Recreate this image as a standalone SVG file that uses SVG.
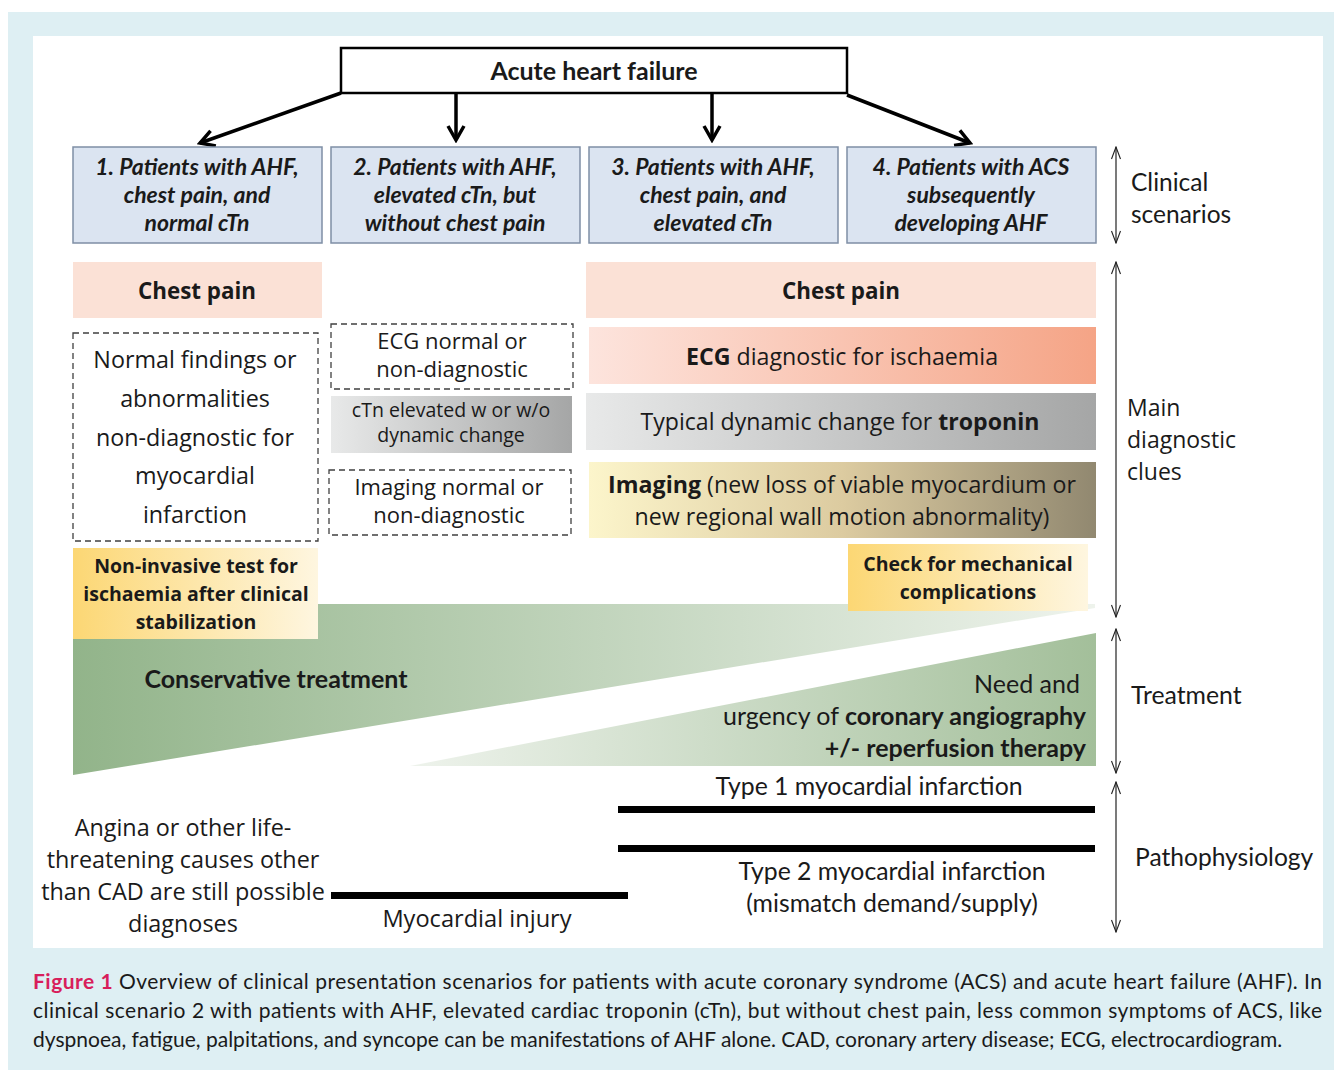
<svg xmlns="http://www.w3.org/2000/svg" width="1334" height="1070" viewBox="0 0 1334 1070">
<defs>
<style>
.nar{font-family:Lato,"Liberation Sans",sans-serif;fill:#1a1a1a}
.op{font-family:"Open Sans","Liberation Sans",sans-serif;fill:#1a1a1a}
.b{font-weight:bold}
.sc{font-family:Lato,"Liberation Sans",sans-serif;font-weight:bold;font-style:italic;font-size:23px;fill:#1a1a1a;text-anchor:middle}
.scbox{fill:#dbe4f1;stroke:#7f8ea5;stroke-width:1.5}
.dash{fill:#fff;stroke:#404040;stroke-width:1.3;stroke-dasharray:6 4}
.conn{stroke:#000;stroke-width:3.5;fill:none;marker-end:url(#ah)}
.rng{stroke:#222;stroke-width:1.2;fill:none;marker-start:url(#th);marker-end:url(#th)}
.bar{fill:#000}
</style>
<marker id="ah" markerUnits="userSpaceOnUse" viewBox="0 0 22 22" refX="19" refY="11" markerWidth="22" markerHeight="22" orient="auto">
<path d="M5,3 L19,11 L5,19" fill="none" stroke="#000" stroke-width="3.5"/>
</marker>
<marker id="th" markerUnits="userSpaceOnUse" viewBox="0 0 14 14" refX="13" refY="7" markerWidth="14" markerHeight="14" orient="auto-start-reverse">
<path d="M1,2.5 L13,7 L1,11.5" fill="none" stroke="#222" stroke-width="1.1"/>
</marker>
<linearGradient id="gGray" x1="0" x2="1" y1="0" y2="0"><stop offset="0" stop-color="#e8e9e9"/><stop offset="1" stop-color="#a5a6a6"/></linearGradient>
<linearGradient id="gEcg" x1="0" x2="1" y1="0" y2="0"><stop offset="0" stop-color="#fde4dd"/><stop offset="1" stop-color="#f5a486"/></linearGradient>
<linearGradient id="gImg" x1="0" x2="1" y1="0" y2="0"><stop offset="0" stop-color="#fcf5cb"/><stop offset="0.5" stop-color="#dccba0"/><stop offset="1" stop-color="#918870"/></linearGradient>
<linearGradient id="gYel" x1="0" x2="1" y1="0" y2="0"><stop offset="0" stop-color="#fcd774"/><stop offset="1" stop-color="#fef6e0"/></linearGradient>
<linearGradient id="gCons" gradientUnits="userSpaceOnUse" x1="73" x2="1095" y1="0" y2="0"><stop offset="0" stop-color="#92b48a"/><stop offset="1" stop-color="#eef3ec"/></linearGradient>
<linearGradient id="gNeed" gradientUnits="userSpaceOnUse" x1="410" x2="1096" y1="0" y2="0"><stop offset="0" stop-color="#eef3ec"/><stop offset="1" stop-color="#a3bf9a"/></linearGradient>
</defs>
<rect x="0" y="0" width="1334" height="1070" fill="#fff"/>
<rect x="8" y="12" width="1326" height="1058" fill="#deeff3"/>
<rect x="33" y="36" width="1290" height="912" fill="#fff"/>

<g id="treatment-wedges">
<polygon points="73,604 1095,604 1095,608 73,775" fill="url(#gCons)"/>
<polygon points="410,766 1096,633 1096,766" fill="url(#gNeed)"/>
<text class="nar b" x="276" y="688" font-size="25" text-anchor="middle">Conservative treatment</text>
<text class="nar" font-size="25" text-anchor="end"><tspan x="1080" y="693">Need and</tspan><tspan x="1086" y="725">urgency of <tspan class="b">coronary angiography</tspan></tspan><tspan class="b" x="1086" y="757">+/- reperfusion therapy</tspan></text>
</g>

<g id="acute-heart-failure">
<rect x="341" y="48" width="506" height="45" fill="#fff" stroke="#000" stroke-width="2.5"/>
<text class="nar b" x="594" y="80" font-size="25" text-anchor="middle">Acute heart failure</text>
</g>

<g id="connectors">
<line class="conn" x1="341" y1="93" x2="200" y2="143"/>
<line class="conn" x1="456" y1="93" x2="456" y2="140"/>
<line class="conn" x1="712" y1="93" x2="712" y2="140"/>
<line class="conn" x1="847" y1="95" x2="970" y2="143"/>
<line class="rng" x1="1116" y1="147" x2="1116" y2="243"/>
<line class="rng" x1="1116" y1="262" x2="1116" y2="617"/>
<line class="rng" x1="1116" y1="629" x2="1116" y2="773"/>
<line class="rng" x1="1116" y1="782" x2="1116" y2="932"/>
</g>

<g id="scenario-1"><rect class="scbox" x="73" y="147" width="249" height="96"/><text class="sc"><tspan x="197" y="175">1. Patients with AHF,</tspan><tspan x="197" y="203">chest pain, and</tspan><tspan x="197" y="231">normal cTn</tspan></text></g>
<g id="scenario-2"><rect class="scbox" x="331" y="147" width="249" height="96"/><text class="sc"><tspan x="455" y="175">2. Patients with AHF,</tspan><tspan x="455" y="203">elevated cTn, but</tspan><tspan x="455" y="231">without chest pain</tspan></text></g>
<g id="scenario-3"><rect class="scbox" x="589" y="147" width="249" height="96"/><text class="sc"><tspan x="713" y="175">3. Patients with AHF,</tspan><tspan x="713" y="203">chest pain, and</tspan><tspan x="713" y="231">elevated cTn</tspan></text></g>
<g id="scenario-4"><rect class="scbox" x="847" y="147" width="249" height="96"/><text class="sc"><tspan x="971" y="175">4. Patients with ACS</tspan><tspan x="971" y="203">subsequently</tspan><tspan x="971" y="231">developing AHF</tspan></text></g>

<g id="labels">
<text class="nar" font-size="24.5"><tspan x="1131" y="191">Clinical</tspan><tspan x="1131" y="223">scenarios</tspan></text>
<text class="op" font-size="23"><tspan x="1127" y="416">Main</tspan><tspan x="1127" y="448">diagnostic</tspan><tspan x="1127" y="480">clues</tspan></text>
<text class="nar" x="1131" y="704" font-size="24.8">Treatment</text>
<text class="nar" x="1135" y="866" font-size="24.6">Pathophysiology</text>
</g>

<g id="chest-pain-1"><rect x="73" y="262" width="249" height="56" fill="#fbe1d6"/><text class="op b" x="197" y="299" font-size="22.4" text-anchor="middle">Chest pain</text></g>
<g id="chest-pain-3"><rect x="586" y="262" width="510" height="56" fill="#fbe1d6"/><text class="op b" x="841" y="299" font-size="22.4" text-anchor="middle">Chest pain</text></g>

<g id="normal-findings"><rect class="dash" x="73" y="333" width="245" height="208"/>
<text class="op" font-size="23.3" text-anchor="middle"><tspan x="195" y="368">Normal findings or</tspan><tspan x="195" y="407">abnormalities</tspan><tspan x="195" y="446">non-diagnostic for</tspan><tspan x="195" y="484">myocardial</tspan><tspan x="195" y="523">infarction</tspan></text></g>

<g id="ecg-normal"><rect class="dash" x="331" y="324" width="242" height="65"/>
<text class="op" font-size="22" text-anchor="middle"><tspan x="452" y="349">ECG normal or</tspan><tspan x="452" y="377">non-diagnostic</tspan></text></g>

<g id="ctn-elevated"><rect x="331" y="396" width="241" height="57" fill="url(#gGray)"/>
<text class="op" font-size="19.5" text-anchor="middle"><tspan x="451" y="417">cTn elevated w or w/o</tspan><tspan x="451" y="442">dynamic change</tspan></text></g>

<g id="imaging-normal"><rect class="dash" x="329" y="470" width="242" height="65"/>
<text class="op" font-size="22" text-anchor="middle"><tspan x="449" y="495">Imaging normal or</tspan><tspan x="449" y="523">non-diagnostic</tspan></text></g>

<g id="ecg-diagnostic"><rect x="589" y="327" width="507" height="57" fill="url(#gEcg)"/>
<text class="op" x="842" y="365" font-size="23.2" text-anchor="middle"><tspan class="b">ECG</tspan> diagnostic for ischaemia</text></g>

<g id="troponin"><rect x="586" y="393" width="510" height="57" fill="url(#gGray)"/>
<text class="op" x="840" y="430" font-size="23.1" text-anchor="middle">Typical dynamic change for <tspan class="b">troponin</tspan></text></g>

<g id="imaging"><rect x="589" y="462" width="507" height="76" fill="url(#gImg)"/>
<text class="op" font-size="23.2" text-anchor="middle"><tspan x="842" y="493"><tspan class="b">Imaging</tspan> (new loss of viable myocardium or</tspan><tspan x="842" y="525">new regional wall motion abnormality)</tspan></text></g>

<g id="non-invasive"><rect x="73" y="548" width="245" height="91" fill="url(#gYel)"/>
<text class="op b" font-size="19.5" text-anchor="middle"><tspan x="196" y="573">Non-invasive test for</tspan><tspan x="196" y="601">ischaemia after clinical</tspan><tspan x="196" y="629">stabilization</tspan></text></g>

<g id="mechanical"><rect x="848" y="544" width="240" height="67" fill="url(#gYel)"/>
<text class="op b" font-size="19.5" text-anchor="middle"><tspan x="968" y="571">Check for mechanical</tspan><tspan x="968" y="599">complications</tspan></text></g>

<g id="pathophysiology">
<rect class="bar" x="618" y="806" width="477" height="7"/>
<rect class="bar" x="618" y="845" width="477" height="7"/>
<rect class="bar" x="331" y="892" width="297" height="7"/>
<text class="nar" x="869" y="795" font-size="24.8" text-anchor="middle">Type 1 myocardial infarction</text>
<text class="nar" font-size="24.8" text-anchor="middle"><tspan x="892" y="880">Type 2 myocardial infarction</tspan><tspan x="892" y="912">(mismatch demand/supply)</tspan></text>
<text class="op" x="477" y="927" font-size="23.6" text-anchor="middle">Myocardial injury</text>
<text class="op" font-size="23.4" text-anchor="middle"><tspan x="183" y="836">Angina or other life-</tspan><tspan x="183" y="868">threatening causes other</tspan><tspan x="183" y="900">than CAD are still possible</tspan><tspan x="183" y="932">diagnoses</tspan></text>
</g>

<g id="caption" font-family="Lato,'Liberation Sans',sans-serif" font-size="21" fill="#1a1a1a">
<text x="33" y="989" textLength="1289" lengthAdjust="spacing"><tspan fill="#d81e5b" font-weight="bold">Figure 1</tspan> Overview of clinical presentation scenarios for patients with acute coronary syndrome (ACS) and acute heart failure (AHF). In</text>
<text x="33" y="1018" textLength="1289" lengthAdjust="spacing">clinical scenario 2 with patients with AHF, elevated cardiac troponin (cTn), but without chest pain, less common symptoms of ACS, like</text>
<text x="33" y="1047">dyspnoea, fatigue, palpitations, and syncope can be manifestations of AHF alone. CAD, coronary artery disease; ECG, electrocardiogram.</text>
</g>
</svg>
